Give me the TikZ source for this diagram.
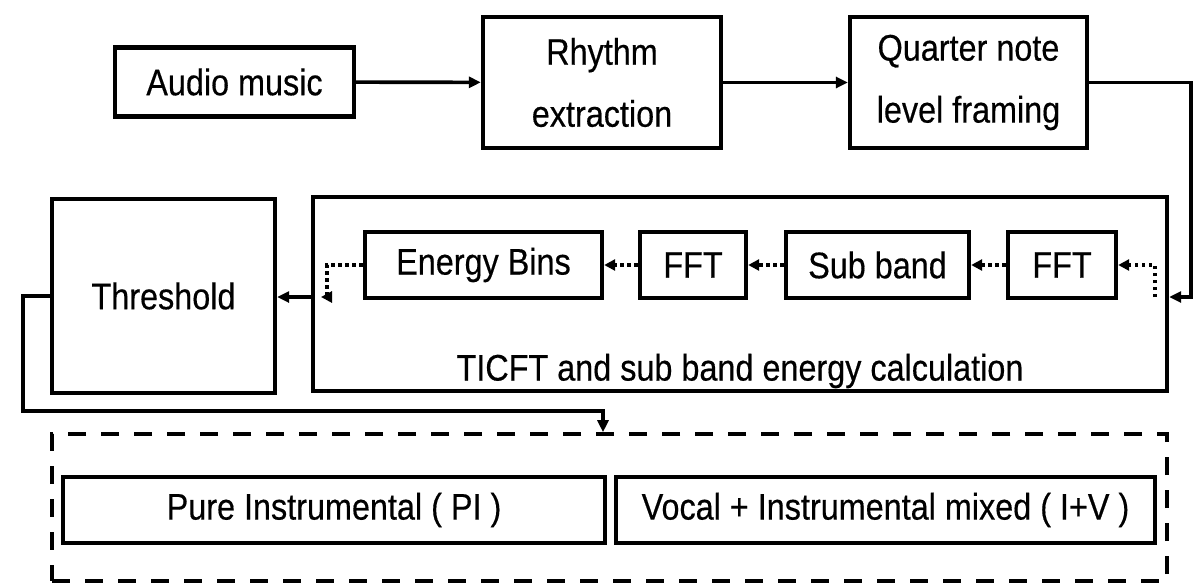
\documentclass[tikz,border=0pt]{standalone}
\usepackage{fontspec}
\setmainfont{Liberation Sans}[FakeStretch=0.875,FakeBold=0.4]
\usetikzlibrary{arrows.meta}
\begin{document}
\begin{tikzpicture}[x=1pt,y=-1pt,
  box/.style={draw,line width=4.4pt,inner sep=0pt,align=center,
    font=\fontsize{37}{62}\selectfont},
  conn/.style={line width=3.6pt,-{Triangle[length=12pt,width=11pt]}},
  dotconn/.style={line width=3.6pt,dash pattern=on 3.5pt off 3.5pt,
    -{Triangle[length=11pt,width=11pt]}},
  lbl/.style={inner sep=0pt,font=\fontsize{37}{40}\selectfont}]
\useasboundingbox (0,0) rectangle (1194,584);
% top row
\node[box,minimum width=239pt,minimum height=69pt] (audio) at (234.5,82) {Audio music};
\node[box,minimum width=238pt,minimum height=131pt] (rhythm) at (602,82.5) {Rhythm\\extraction};
\node[box,minimum width=237pt,minimum height=131pt] (quarter) at (968.5,82.5) {Quarter note\\level framing};
% middle row
\node[box,minimum width=223pt,minimum height=194pt] (thr) at (163.5,296) {Threshold};
\node[box,minimum width=854pt,minimum height=194pt] (tic) at (740,294) {};
\node[lbl] (ticlbl) at (740,371) {TICFT and sub band energy calculation};
\node[box,minimum width=237pt,minimum height=66pt] (eb) at (483.5,265) {Energy Bins};
\node[box,minimum width=106pt,minimum height=66pt] (fft1) at (693,265) {FFT};
\node[box,minimum width=183pt,minimum height=66pt] (sb) at (877.5,265) {Sub band};
\node[box,minimum width=108pt,minimum height=66pt] (fft2) at (1062,265) {FFT};
% bottom group
\node[draw,line width=3.6pt,dash pattern=on 18pt off 15pt,minimum width=1115pt,minimum height=147pt,inner sep=0pt] (grp) at (609.5,507.5) {};
\node[box,minimum width=542pt,minimum height=66pt] (pi) at (334,510) {Pure Instrumental ( PI )};
\node[box,minimum width=539pt,minimum height=66pt] (vi) at (885.5,510) {Vocal + Instrumental mixed ( I+V )};
% connectors
\draw[conn] (audio) -- (rhythm);
\draw[conn] (rhythm) -- (quarter);
\coordinate (rt) at (1191,297);
\draw[conn] (quarter.east) -| (rt) -- (rt -| tic.east);
\coordinate (rin) at (1155,297);
\draw[dotconn] (rin) |- (fft2.east);
\draw[dotconn] (fft2.west) -- (sb.east);
\draw[dotconn] (sb.west) -- (fft1.east);
\draw[dotconn] (fft1.west) -- (eb.east);
\coordinate (lin) at (327,297);
\draw[dotconn] (eb.west) -| (lin) -- ++(-6,0);
\draw[conn] (lin -| tic.west) -- (lin -| thr.east);
\coordinate (turn) at (603,411);
\draw[conn] (thr.west) -- ++(-27,0) |- (turn) -- (turn |- grp.north);
\end{tikzpicture}
\end{document}
